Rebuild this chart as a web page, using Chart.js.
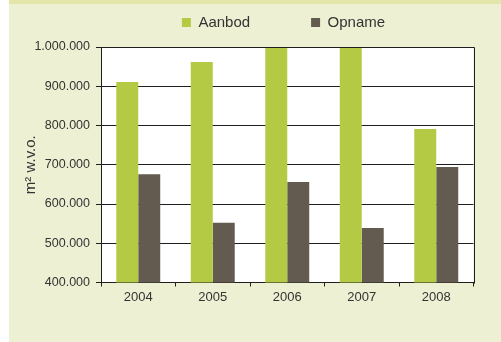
<!DOCTYPE html>
<html>
<head>
<meta charset="utf-8">
<script src="https://cdn.jsdelivr.net/npm/chart.js@4/dist/chart.umd.min.js"></script>
<style>
  html, body { margin: 0; padding: 0; background: #ffffff; }
  #wrap { position: relative; width: 501px; height: 342px; overflow: hidden; }
  #panel { position: absolute; left: 9px; top: 0; width: 492px; height: 342px; box-sizing: border-box;
           background: #EEF0D3; border-top: 4px solid #E3E6A8; }
  #c { position: absolute; left: 0; top: 0; }
</style>
</head>
<body>
<div id="wrap">
  <div id="panel"></div>
  <canvas id="c" width="501" height="342"></canvas>
</div>
<script>
const categories = ['2004', '2005', '2006', '2007', '2008'];
const aanbod = [911000, 962000, 1050000, 1050000, 791000];
const opname = [676000, 552000, 656000, 539000, 694000];
const seriesNames = ['Aanbod', 'Opname'];
const yTitle = 'm\u00B2 w.v.o.';
const yMin = 400000, yMax = 1000000, yStep = 100000;

const FONT = "'Liberation Sans', Arial, sans-serif";
const LINE = '#1e1e1e';

const frame = {
  id: 'frame',
  beforeDraw(chart) {
    const { ctx, chartArea: a } = chart;
    ctx.save();
    ctx.fillStyle = '#ffffff';
    ctx.fillRect(a.left, a.top, a.right - a.left, a.bottom - a.top);
    ctx.restore();
  },
  afterDatasetsDraw(chart) {
    const { ctx, chartArea: a } = chart;
    ctx.save();
    ctx.strokeStyle = LINE;
    ctx.lineWidth = 1;
    const l = Math.round(a.left) + 0.5, r = Math.round(a.right) + 0.5;
    const t = Math.round(a.top) + 0.5, b = Math.round(a.bottom) + 0.5;
    ctx.beginPath();
    ctx.moveTo(l, t); ctx.lineTo(r, t); ctx.lineTo(r, b);
    ctx.stroke();
    ctx.restore();
  }
};

const legendPlace = {
  id: 'legendPlace',
  afterLayout(chart) {
    const lg = chart.legend;
    const p = lg.options.labels.padding;
    const center = 283.5;
    lg.left = 0; lg.right = 2 * center;
    lg.top = 15 - p; lg.bottom = 47;
    lg.width = lg.right - lg.left;
    lg.height = lg.bottom - lg.top;
  }
};

new Chart(document.getElementById('c'), {
  type: 'bar',
  data: {
    labels: categories,
    datasets: [
      { label: seriesNames[0], data: aanbod, backgroundColor: '#B4CA45', borderWidth: 0 },
      { label: seriesNames[1], data: opname, backgroundColor: '#635A50', borderWidth: 0 }
    ]
  },
  options: {
    responsive: false,
    animation: false,
    devicePixelRatio: 1,
    clip: 0,
    categoryPercentage: 0.59,
    barPercentage: 1.0,
    layout: { padding: { left: 0, right: 27.5, top: 0, bottom: 0 } },
    plugins: {
      legend: {
        position: 'top',
        maxHeight: 47,
        labels: {
          boxWidth: 9, boxHeight: 9, padding: 61,
          color: '#333333',
          font: { family: FONT, size: 15 }
        }
      },
      tooltip: { enabled: false }
    },
    scales: {
      x: {
        grid: { offset: true, drawOnChartArea: false, drawTicks: true, tickLength: 4, color: LINE },
        border: { display: true, color: LINE, width: 1 },
        ticks: { color: '#333333', font: { family: FONT, size: 13 }, padding: 3, maxRotation: 0 },
        afterFit(scale) { scale.height = 59.5; }
      },
      y: {
        min: yMin, max: yMax,
        grid: { color: LINE, drawTicks: true, tickLength: 5 },
        border: { display: true, color: LINE, width: 1 },
        ticks: {
          stepSize: yStep,
          color: '#333333',
          padding: 6,
          font: { family: FONT, size: 12.5 },
          callback: v => String(v).replace(/\B(?=(\d{3})+(?!\d))/g, '.')
        },
        title: {
          display: true, text: yTitle, color: '#333333',
          font: { family: FONT, size: 15 },
          padding: { top: 22, bottom: 0 }
        },
        afterFit(scale) { scale.width = 101; }
      }
    }
  },
  plugins: [frame, legendPlace]
});
</script>
</body>
</html>
